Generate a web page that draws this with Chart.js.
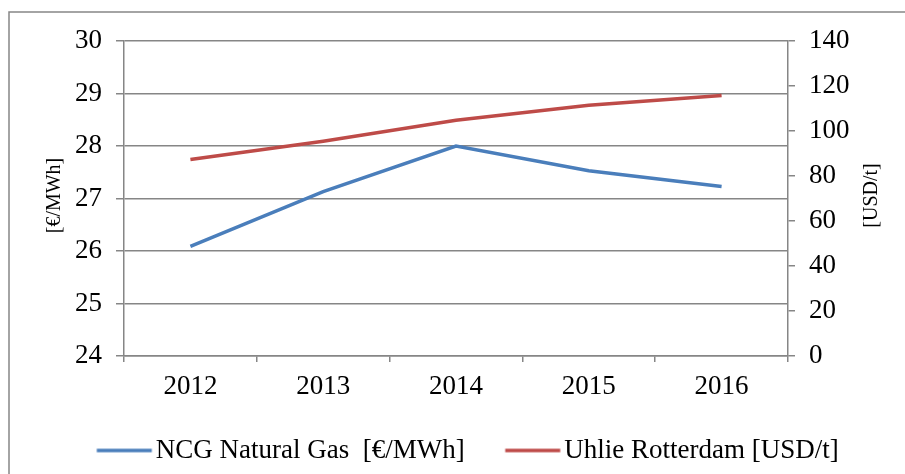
<!DOCTYPE html>
<html lang="en">
<head>
  <meta charset="UTF-8">
  <title>NCG Natural Gas vs Uhlie Rotterdam</title>
  <script src="https://cdn.jsdelivr.net/npm/chart.js"></script>
  <style>
    html, body { margin: 0; padding: 0; background: #fff; overflow: hidden; }
    #wrap { width: 905px; height: 474px; position: relative; }
  </style>
</head>
<body>
  <div id="wrap"><canvas id="priceChart"></canvas></div>
  <script>
    // values
    const years = ['2012', '2013', '2014', '2015', '2016'];
    const gasPrices = [26.09, 27.13, 28.0, 27.53, 27.23];     // EUR/MWh, left axis
    const coalPrices = [87.3, 95.4, 104.8, 111.4, 115.8];     // USD/t, right axis
    const gasTicks = [24, 25, 26, 27, 28, 29, 30];
    const coalTicks = [0, 20, 40, 60, 80, 100, 120, 140];

    const gray = '#868686';
    const blue = '#4A7EBB';
    const red = '#BE4B48';
    const serif = 'Liberation Serif, Times New Roman, serif';

    // legend swatch: a short line sitting close to its text (Excel style)
    function swatch(color) {
      const cv = document.createElement('canvas');
      cv.width = 120;
      cv.height = 8;
      const c = cv.getContext('2d');
      c.strokeStyle = color;
      c.lineWidth = 3.5;
      c.beginPath();
      c.moveTo(37.5, 4);
      c.lineTo(92.5, 4);
      c.stroke();
      return cv;
    }

    // outer frame + both axis titles (both read bottom to top)
    const decor = {
      id: 'decor',
      beforeDraw(chart) {
        const c = chart.ctx;
        c.save();
        c.strokeStyle = gray;
        c.lineWidth = 1.5;
        c.strokeRect(9, 12, 1000, 1000);
        c.restore();
      },
      afterDraw(chart) {
        const c = chart.ctx;
        const mid = (chart.chartArea.top + chart.chartArea.bottom) / 2 - 3;
        c.save();
        c.fillStyle = '#000';
        c.font = '20px ' + serif;
        c.textAlign = 'center';
        c.textBaseline = 'middle';
        [['[€/MWh]', 55], ['[USD/t]', 872]].forEach(([t, x]) => {
          c.save();
          c.translate(x, mid);
          c.rotate(-Math.PI / 2);
          c.fillText(t, 0, 0);
          c.restore();
        });
        c.restore();
      }
    };

    new Chart(document.getElementById('priceChart'), {
      type: 'line',
      data: {
        labels: years,
        datasets: [{
          label: 'NCG Natural Gas  [€/MWh]',
          data: gasPrices,
          borderColor: blue,
          backgroundColor: blue,
          borderWidth: 3.5,
          pointRadius: 0,
          pointStyle: swatch(blue),
          yAxisID: 'y'
        }, {
          label: 'Uhlie Rotterdam [USD/t]',
          data: coalPrices,
          borderColor: red,
          backgroundColor: red,
          borderWidth: 3.5,
          pointRadius: 0,
          pointStyle: swatch(red),
          yAxisID: 'y1'
        }]
      },
      options: {
        responsive: true,
        maintainAspectRatio: false,
        animation: false,
        layout: { padding: { left: 30, right: 0, top: 41, bottom: 0 } },
        plugins: {
          legend: {
            position: 'bottom',
            labels: {
              usePointStyle: true,
              pointStyleWidth: 46,
              color: '#000',
              font: { family: serif, size: 27 },
              padding: 40
            }
          },
          tooltip: { enabled: false }
        },
        scales: {
          x: {
            offset: true,
            grid: { display: true, drawOnChartArea: false, offset: true, color: gray, lineWidth: 1.5, tickLength: 6 },
            border: { display: true, color: gray, width: 1.5 },
            ticks: { color: '#000', font: { family: serif, size: 27 }, padding: 9 },
            afterFit(s) { s.height = 41; }
          },
          y: {
            position: 'left',
            min: 24, max: 30,
            afterBuildTicks(s) { s.ticks = gasTicks.map(v => ({ value: v })); },
            grid: { color: gray, lineWidth: 1.5, tickLength: 8 },
            border: { display: true, color: gray, width: 1.5 },
            ticks: { color: '#000', font: { family: serif, size: 27 }, padding: 14 },
            afterFit(s) { s.width = 94; }
          },
          y1: {
            position: 'right',
            min: 0, max: 140,
            afterBuildTicks(s) { s.ticks = coalTicks.map(v => ({ value: v })); },
            grid: { drawOnChartArea: false, color: gray, lineWidth: 1.5, tickLength: 7 },
            border: { display: true, color: gray, width: 1.5 },
            ticks: { color: '#000', font: { family: serif, size: 27 }, padding: 14 },
            afterFit(s) { s.width = 117; }
          }
        }
      },
      plugins: [decor]
    });
  </script>
</body>
</html>
